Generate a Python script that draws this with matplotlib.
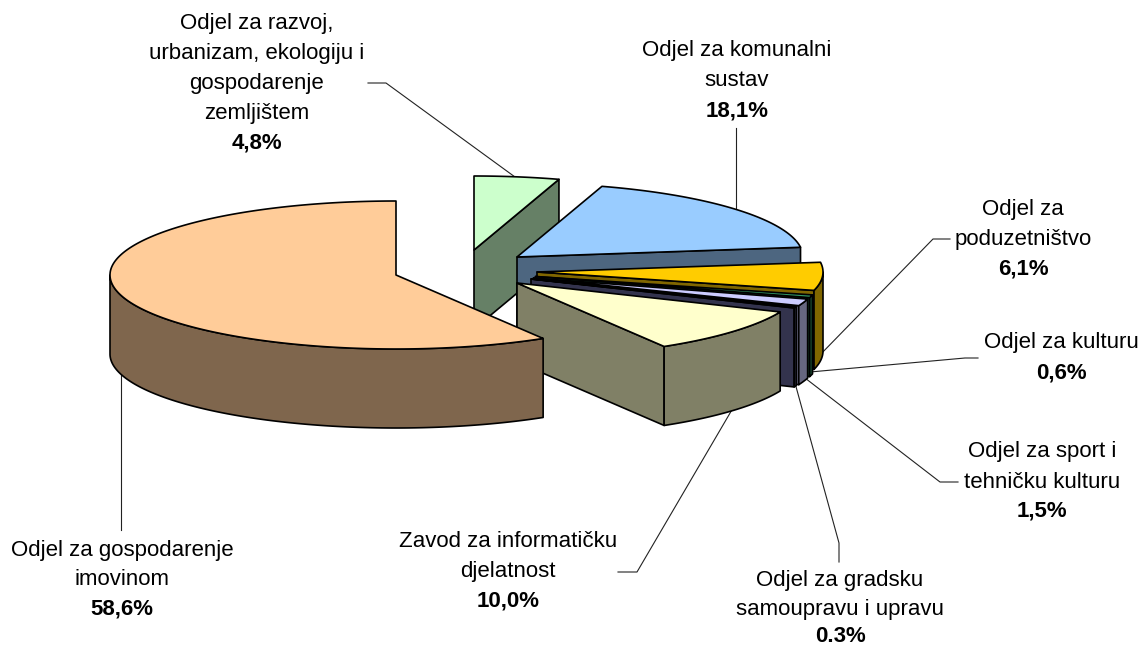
import numpy as np
import matplotlib
matplotlib.use("Agg")
import matplotlib.pyplot as plt
from matplotlib.patches import Polygon

# ---- data (counter-clockwise from 12 o'clock) ----
names = [
    ["Odjel za gospodarenje", "imovinom"],
    ["Zavod za informatičku", "djelatnost"],
    ["Odjel za gradsku", "samoupravu i upravu"],
    ["Odjel za sport i", "tehničku kulturu"],
    ["Odjel za kulturu"],
    ["Odjel za", "poduzetništvo"],
    ["Odjel za komunalni", "sustav"],
    ["Odjel za razvoj,", "urbanizam, ekologiju i", "gospodarenje", "zemljištem"],
]
shares = [58.6, 10.0, 0.3, 1.5, 0.6, 6.1, 18.1, 4.8]
share_labels = ["58,6%", "10,0%", "0.3%", "1,5%", "0,6%", "6,1%", "18,1%", "4,8%"]

top_colors = ["#FFCC99", "#FFFFCC", "#666699", "#CCCCFF", "#339966", "#FFCC00", "#99CCFF", "#CCFFCC"]
side_colors = ["#7F664D", "#808066", "#33334D", "#666680", "#1A4D33", "#806600", "#4D6680", "#668066"]

# ---- layout (pixels) ----
W, H = 1141, 647
RX, RY, DEPTH = 286, 74, 79
apexes = [(396, 275), (517, 283), (531, 279), (533.5, 278), (535.5, 276.5), (537, 272), (517, 257), (474, 250)]
draw_order = [7, 6, 5, 4, 3, 2, 1, 0]
# baselines of the text lines
text_anchor = [(122, [556, 585, 615]), (508, [547, 577, 607]), (840, [586, 615, 642]),
               (1042, [457, 488, 517]), (1061, [348, 379]), (1023, [215, 245, 275]),
               (737, [56, 86, 116]), (257, [29, 59, 89, 119, 149])]
leaders = [
    [(120.5, 372), (120.5, 530)],
    [(733, 408), (637, 572), (618, 572)],
    [(795, 383), (839, 543), (839, 562)],
    [(805, 378), (940, 482), (958, 482)],
    [(810, 372), (965, 358), (978, 358)],
    [(817, 358), (933, 239), (950, 239)],
    [(735.5, 208), (735.5, 128)],
    [(515, 177), (386, 83), (368, 83)],
]

plt.rcParams["font.family"] = ["Liberation Sans", "DejaVu Sans"]
fig = plt.figure(figsize=(W / 100, H / 100), dpi=100)
ax = fig.add_axes([0, 0, 1, 1])
ax.set_xlim(0, W)
ax.set_ylim(H, 0)
ax.axis("off")

bounds = 90 + np.cumsum([0] + shares) * 3.6


def rim(cx, cy, t0, t1):
    t = np.radians(np.linspace(t0, t1, max(int(abs(t1 - t0) * 2), 2)))
    return np.column_stack([cx + RX * np.cos(t), cy - RY * np.sin(t)])


def face(points, color, z):
    ax.add_patch(Polygon(points, closed=True, facecolor=color, edgecolor="black",
                         linewidth=1.2, joinstyle="round", zorder=z))


for path in leaders:
    xs, ys = zip(*path)
    ax.plot(xs, ys, color="#222222", linewidth=0.8, zorder=1)

for z, i in enumerate(draw_order):
    t0, t1 = bounds[i], bounds[i + 1]
    cx, cy = apexes[i]
    base = 2 + z * 3
    down = np.array([0, DEPTH])
    apex = np.array([cx, cy], float)
    start = rim(cx, cy, t0, t0)[0]
    end = rim(cx, cy, t1, t1)[0]
    if np.cos(np.radians(t0)) > 1e-6:
        face([apex, start, start + down, apex + down], side_colors[i], base)
    if np.cos(np.radians(t1)) < -1e-6:
        face([apex, end, end + down, apex + down], side_colors[i], base)
    a0, a1 = max(t0, 180), min(t1, 360)
    if a1 > a0:
        arc = rim(cx, cy, a0, a1)
        face(np.vstack([arc, arc[::-1] + down]), side_colors[i], base + 1)
    face(np.vstack([apex, rim(cx, cy, t0, t1)]), top_colors[i], base + 2)

for i, (x, ys) in enumerate(text_anchor):
    for line, y in zip(names[i], ys):
        ax.text(x, y, line, ha="center", va="baseline", fontsize=16, color="black", zorder=60)
    ax.text(x, ys[-1], share_labels[i], ha="center", va="baseline", fontsize=16,
            fontweight="bold", color="black", zorder=60)

fig.savefig("out.png", dpi=100, facecolor="white")
